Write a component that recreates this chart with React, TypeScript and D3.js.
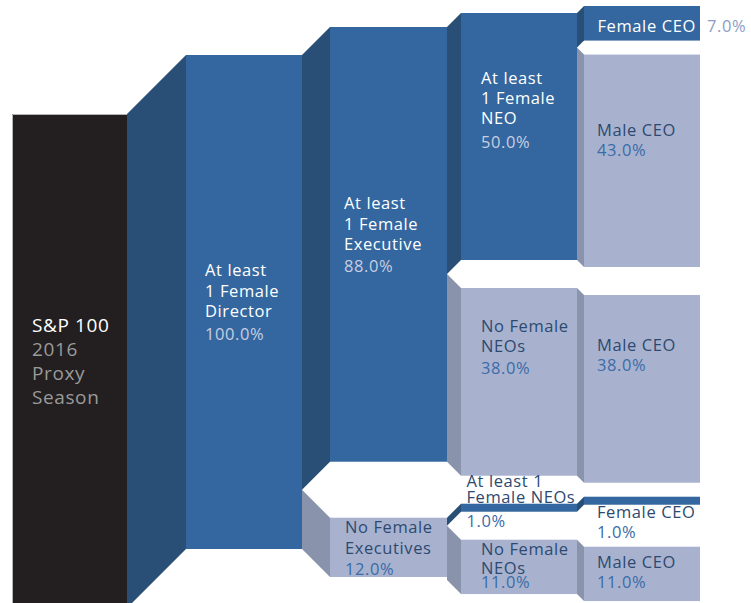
import React from 'react';
import * as d3 from 'd3';

// ---------- data ----------
const nodeParents = [-1, 0, 1, 1, 2, 2, 3, 3, 4, 4, 5, 6, 7];
const nodeValues = [100, 100, 88, 12, 50, 38, 1, 11, 7, 43, 38, 1, 11];
const nodeKinds = ['root', 'yes', 'yes', 'no', 'yes', 'no', 'yes', 'no', 'yes', 'no', 'no', 'yes', 'no'];
const nodeLabels = [
  ['S&P 100', '2016', 'Proxy', 'Season'],
  ['At least', '1 Female', 'Director'],
  ['At least', '1 Female', 'Executive'],
  ['No Female', 'Executives'],
  ['At least', '1 Female', 'NEO'],
  ['No Female', 'NEOs'],
  ['At least 1', 'Female NEOs'],
  ['No Female', 'NEOs'],
  ['Female CEO'],
  ['Male CEO'],
  ['Male CEO'],
  ['Female CEO'],
  ['Male CEO'],
];

// ---------- layout constants (not data) ----------
const W = 751;
const H = 603;
const colX = [12, 186, 330, 461, 584];
const colW = [115, 116, 117, 116, 116];
const rootTop = 114;
const minH = 8;
const labelDx = [20, 19, 14, 15, 20, 20, 5.5, 20, 13.5, 13, 13, 13, 13];
const labelTop = [218, 221, 182, 15.5, 71, 44, -16.5, 15.5, 26, 81, 56, 21.5, 21.5];
const lineGap = [24, 20.5, 20.5, 21, 20, 20, 16, 19, 0, 0, 0, 0, 0];
const pctGap = [0, 23, 22, 21, 24, 22, 24, 14, 0, 20, 20, 20, 20];

const C = {
  root: '#231f20',
  rootStroke: '#b5b5b5',
  yes: '#34679f',
  yesConn: '#294f77',
  no: '#a8b2cf',
  noConn: '#8a93ac',
  white: '#ffffff',
  rootSub: '#9a9a9a',
  yesPct: '#c7cee2',
  noLabel: '#2c4a70',
  noPct: '#3a6ca7',
  outPct: '#8d9cc6',
};

const FONT = "'Open Sans', 'DejaVu Sans', sans-serif";

type N = {
  i: number;
  col: number;
  x0: number;
  x1: number;
  y0: number;
  h: number;
  conn?: [number, number][];
};

export default function App() {
  const y = d3.scaleLinear().domain([0, 100]).range([0, 494]);
  const fmt = d3.format('.1f');

  const nodes: N[] = [];
  const cursor: number[] = [];
  nodeValues.forEach((v, i) => {
    const p = nodeParents[i];
    if (p < 0) {
      nodes.push({ i, col: 0, x0: colX[0], x1: colX[0] + colW[0], y0: rootTop, h: y(v) });
      cursor[i] = rootTop;
      return;
    }
    const pn = nodes[p];
    const col = pn.col + 1;
    const dx = colX[col] - pn.x1;
    const h = Math.max(y(v), minH);
    const ps = cursor[p];
    const pe = ps + h;
    cursor[p] = pe;
    const dir = nodeKinds[i] === 'yes' ? -1 : 1;
    const y0 = ps + dir * dx;
    const n: N = {
      i,
      col,
      x0: colX[col],
      x1: colX[col] + colW[col],
      y0,
      h,
      conn: [
        [pn.x1, ps],
        [colX[col], y0],
        [colX[col], y0 + h],
        [pn.x1, pe],
      ],
    };
    nodes.push(n);
    cursor[i] = y0;
  });

  const line = d3.line<[number, number]>().curve(d3.curveLinearClosed);

  return (
    <svg
      width={W}
      height={H}
      style={{ position: 'absolute', left: 0, top: 0, display: 'block' }}
      fontFamily={FONT}
    >
      <rect width={W} height={H} fill="#ffffff" />
      {nodes.map((n) =>
        n.conn ? (
          <path
            key={'c' + n.i}
            d={line(n.conn) || ''}
            fill={nodeKinds[n.i] === 'yes' ? C.yesConn : C.noConn}
          />
        ) : null
      )}
      {nodes.map((n) => {
        const kind = nodeKinds[n.i];
        const fill = kind === 'root' ? C.root : kind === 'yes' ? C.yes : C.no;
        return (
          <g key={'n' + n.i}>
            <rect x={n.x0} y={n.y0} width={n.x1 - n.x0} height={n.h} fill={fill} />
            {kind === 'root' ? (
              <path
                d={`M${n.x0 + 0.5},${n.y0 + n.h}V${n.y0 + 0.5}H${n.x1}`}
                fill="none"
                stroke={C.rootStroke}
                strokeWidth={1}
              />
            ) : null}
          </g>
        );
      })}
      {nodes.map((n) => {
        const kind = nodeKinds[n.i];
        const lines = nodeLabels[n.i];
        const outside = n.h < 20;
        const x = n.x0 + labelDx[n.i];
        const b0 = n.y0 + labelTop[n.i];
        const fs = kind === 'root' ? 19 : 16.5;
        let labelColor = C.white;
        let pctColor = C.yesPct;
        if (kind === 'no' || outside) {
          labelColor = C.noLabel;
          pctColor = C.noPct;
        }
        const lastB = b0 + (lines.length - 1) * lineGap[n.i];
        const pct = kind === 'root' ? '' : fmt(nodeValues[n.i]) + '%';
        const pctOutsideRight = lines.length === 1 && pctGap[n.i] === 0 && pct;
        return (
          <g key={'t' + n.i} fontSize={fs} letterSpacing={0.6}>
            {lines.map((s, k) => (
              <text
                key={k}
                x={x}
                y={b0 + k * lineGap[n.i]}
                fill={kind === 'root' && k > 0 ? C.rootSub : labelColor}
              >
                {s}
              </text>
            ))}
            {pct && !pctOutsideRight ? (
              <text x={x} y={lastB + pctGap[n.i]} fill={pctColor}>
                {pct}
              </text>
            ) : null}
            {pctOutsideRight ? (
              <text x={n.x1 + 7} y={b0} fill={C.outPct}>
                {pct}
              </text>
            ) : null}
          </g>
        );
      })}
    </svg>
  );
}
